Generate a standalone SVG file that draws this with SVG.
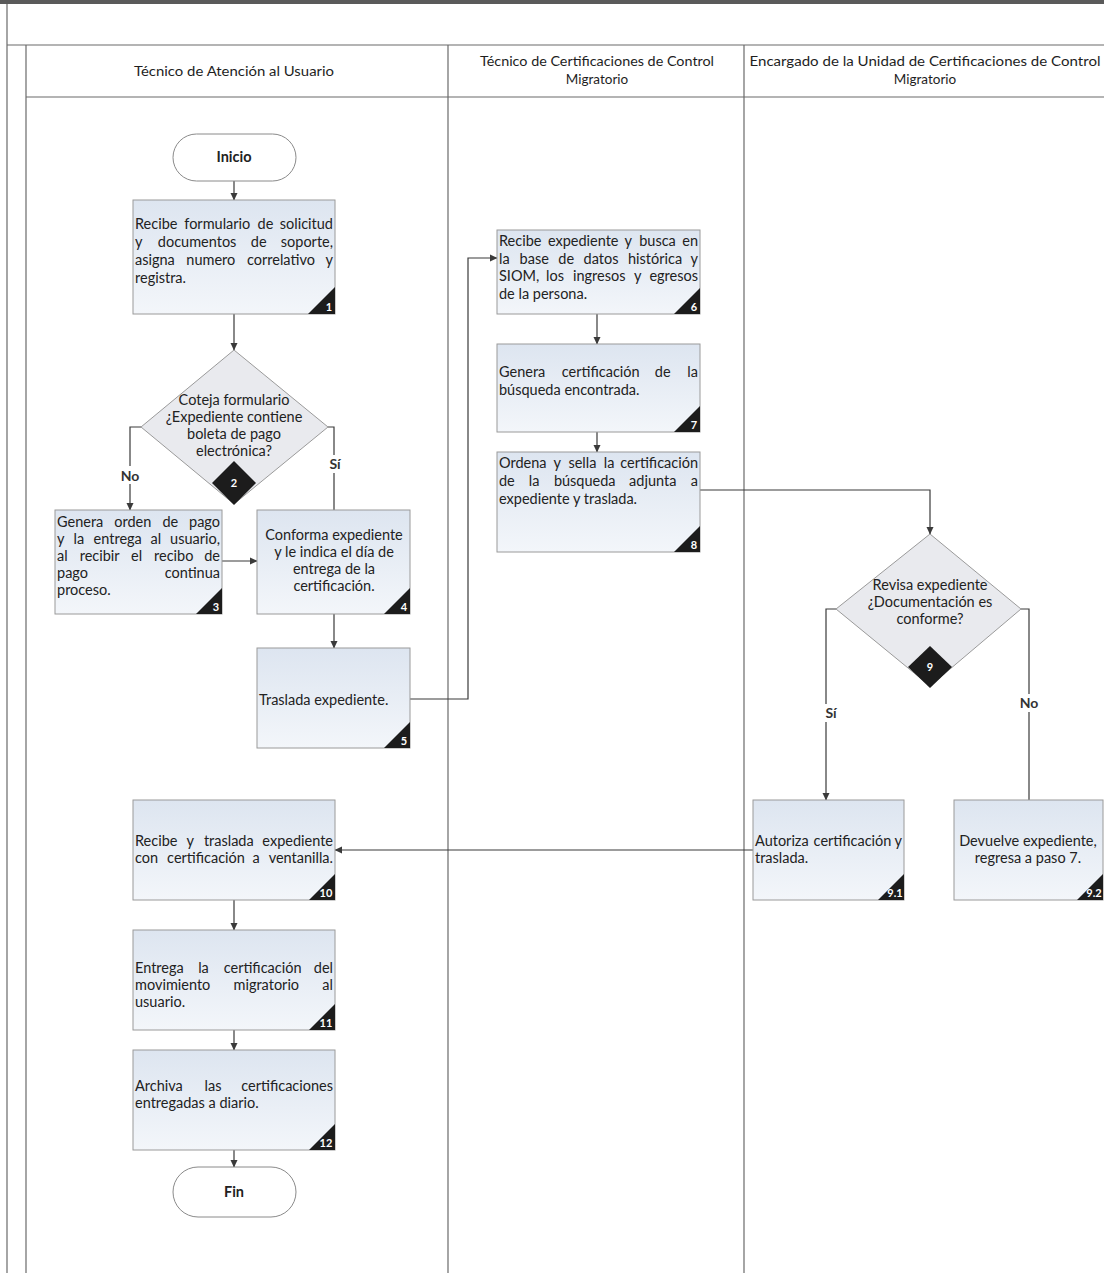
<svg xmlns="http://www.w3.org/2000/svg" width="1104" height="1273" viewBox="0 0 1104 1273">
<defs>
<linearGradient id="bg" x1="0" y1="0" x2="0" y2="1">
<stop offset="0" stop-color="#dde5f0"/>
<stop offset="1" stop-color="#f3f6fa"/>
</linearGradient>
<marker id="ah" markerWidth="8" markerHeight="8" refX="7" refY="4" orient="auto" markerUnits="userSpaceOnUse">
<path d="M0,0.5 L7.5,4 L0,7.5 Z" fill="#3a3a3a"/>
</marker>
<style>
.frame{stroke:#6a6a6a;stroke-width:1.2;fill:none}
.box{fill:url(#bg);stroke:#9a9a9a;stroke-width:1}
.dia{fill:#e9eaee;stroke:#9a9a9a;stroke-width:1}
.term{fill:#ffffff;stroke:#8a8a8a;stroke-width:1}
.tri{fill:#1c1c1c}
.num{font-family:Lato,"Open Sans",sans-serif;font-size:11px;font-weight:bold;fill:#ffffff}
.t{font-family:Lato,"Open Sans",sans-serif;font-size:14.5px;fill:#222222}
.c{text-anchor:middle}
.e{text-anchor:end}
.h{font-family:Lato,"Open Sans",sans-serif;font-size:13.5px;fill:#1e1e1e;text-anchor:middle}
.lbl{font-family:Lato,"Open Sans",sans-serif;font-size:14px;font-weight:bold;fill:#333;text-anchor:middle}
.con{stroke:#3a3a3a;stroke-width:1.2;fill:none}
.arr{marker-end:url(#ah)}
</style>
</defs>
<rect x="0" y="0" width="1104" height="1273" fill="#ffffff"/>
<g id="frame">
<rect x="0" y="0" width="1104" height="4" fill="#5a5a5a"/>
<line class="frame" x1="7" y1="4" x2="7" y2="1273"/>
<line class="frame" x1="7" y1="45" x2="1104" y2="45"/>
<line class="frame" x1="26" y1="45" x2="26" y2="1273"/>
<line class="frame" x1="26" y1="97" x2="1104" y2="97"/>
<line class="frame" x1="448" y1="45" x2="448" y2="1273"/>
<line class="frame" x1="744" y1="45" x2="744" y2="1273"/>
<text class="h" x="234" y="76" textLength="200" lengthAdjust="spacingAndGlyphs">Técnico de Atención al Usuario</text>
<text class="h" x="597" y="66" textLength="234" lengthAdjust="spacingAndGlyphs">Técnico de Certificaciones de Control</text>
<text class="h" x="597" y="84">Migratorio</text>
<text class="h" x="925" y="66" textLength="351" lengthAdjust="spacingAndGlyphs">Encargado de la Unidad de Certificaciones de Control</text>
<text class="h" x="925" y="84">Migratorio</text>
</g>
<g id="connectors">
<line class="con arr" x1="234" y1="181" x2="234" y2="200"/>
<line class="con arr" x1="234" y1="314" x2="234" y2="350"/>
<polyline class="con arr" points="141,427 130,427 130,510"/>
<polyline class="con" points="328,427 334,427 334,510"/>
<line class="con arr" x1="222" y1="561" x2="257" y2="561"/>
<line class="con arr" x1="334" y1="614" x2="334" y2="648"/>
<polyline class="con arr" points="410,699 468,699 468,258 497,258"/>
<line class="con arr" x1="597" y1="314" x2="597" y2="344"/>
<line class="con arr" x1="597" y1="432" x2="597" y2="452"/>
<polyline class="con arr" points="700,490 930,490 930,534"/>
<polyline class="con arr" points="836,609 826,609 826,800"/>
<polyline class="con" points="1021,609 1029,609 1029,800"/>
<line class="con arr" x1="753" y1="850" x2="335" y2="850"/>
<line class="con arr" x1="234" y1="900" x2="234" y2="930"/>
<line class="con arr" x1="234" y1="1030" x2="234" y2="1050"/>
<line class="con arr" x1="234" y1="1150" x2="234" y2="1167"/>
<rect x="117" y="466" width="26" height="18" fill="#ffffff"/>
<text class="lbl" x="130" y="481">No</text>
<rect x="326" y="455" width="18" height="18" fill="#ffffff"/>
<text class="lbl" x="335" y="469">Sí</text>
<rect x="817" y="704" width="18" height="18" fill="#ffffff"/>
<text class="lbl" x="831" y="718">Sí</text>
<rect x="1016" y="694" width="26" height="18" fill="#ffffff"/>
<text class="lbl" x="1029" y="708">No</text>
</g>
<g id="inicio">
<rect class="term" x="173" y="134" width="123" height="47" rx="23.5"/>
<text class="t c" x="234" y="162" font-weight="bold">Inicio</text>
</g>
<g id="n1">
<rect class="box" x="133" y="200" width="202" height="114"/>
<text class="t" y="229"><tspan x="135">Recibe</tspan><tspan x="184.3">formulario</tspan><tspan x="257.6">de</tspan><tspan class="e" x="333">solicitud</tspan></text>
<text class="t" y="247"><tspan x="135">y</tspan><tspan x="157.8">documentos</tspan><tspan x="250.8">de</tspan><tspan class="e" x="333">soporte,</tspan></text>
<text class="t" y="265"><tspan x="135">asigna</tspan><tspan x="186.3">numero</tspan><tspan x="247">correlativo</tspan><tspan class="e" x="333">y</tspan></text>
<text class="t" x="135" y="283">registra.</text>
<path class="tri" d="M335,287 L335,314 L308,314 Z"/>
<text class="num" x="329" y="311" text-anchor="middle">1</text>
</g>
<g id="n2">
<path class="dia" d="M234,350 L141,427 L234,504 L328,427 Z"/>
<text class="t c" x="234" y="405">Coteja formulario</text>
<text class="t c" x="234" y="422">¿Expediente contiene</text>
<text class="t c" x="234" y="439">boleta de pago</text>
<text class="t c" x="234" y="456">electrónica?</text>
<path class="tri" d="M234,461 L256,483 L234,505 L212,483 Z"/>
<text class="num" x="234" y="487" text-anchor="middle">2</text>
</g>
<g id="n3">
<rect class="box" x="55" y="510" width="167" height="104"/>
<text class="t" y="527"><tspan x="57">Genera</tspan><tspan x="114.2">orden</tspan><tspan x="162.5">de</tspan><tspan class="e" x="220">pago</tspan></text>
<text class="t" y="544"><tspan x="57">y</tspan><tspan x="73.5">la</tspan><tspan x="93.6">entrega</tspan><tspan x="150.6">al</tspan><tspan class="e" x="220">usuario,</tspan></text>
<text class="t" y="561"><tspan x="57">al</tspan><tspan x="79.7">recibir</tspan><tspan x="131.1">el</tspan><tspan x="154">recibo</tspan><tspan class="e" x="220">de</tspan></text>
<text class="t" y="578"><tspan x="57">pago</tspan><tspan class="e" x="220">continua</tspan></text>
<text class="t" x="57" y="595">proceso.</text>
<path class="tri" d="M222,588 L222,614 L196,614 Z"/>
<text class="num" x="216" y="611" text-anchor="middle">3</text>
</g>
<g id="n4">
<rect class="box" x="257" y="510" width="153" height="104"/>
<text class="t c" x="334" y="540">Conforma expediente</text>
<text class="t c" x="334" y="557">y le indica el día de</text>
<text class="t c" x="334" y="574">entrega de la</text>
<text class="t c" x="334" y="591">certificación.</text>
<path class="tri" d="M410,588 L410,614 L384,614 Z"/>
<text class="num" x="404" y="611" text-anchor="middle">4</text>
</g>
<g id="n5">
<rect class="box" x="257" y="648" width="153" height="100"/>
<text class="t" x="259" y="705">Traslada expediente.</text>
<path class="tri" d="M410,722 L410,748 L384,748 Z"/>
<text class="num" x="404" y="745" text-anchor="middle">5</text>
</g>
<g id="n6">
<rect class="box" x="497" y="230" width="203" height="84"/>
<text class="t" y="246"><tspan x="499">Recibe</tspan><tspan x="547.9">expediente</tspan><tspan x="624.6">y</tspan><tspan x="639.2">busca</tspan><tspan class="e" x="698">en</tspan></text>
<text class="t" y="264"><tspan x="499">la</tspan><tspan x="519.6">base</tspan><tspan x="558.3">de</tspan><tspan x="583.6">datos</tspan><tspan x="628">histórica</tspan><tspan class="e" x="698">y</tspan></text>
<text class="t" y="281"><tspan x="499">SIOM,</tspan><tspan x="546.1">los</tspan><tspan x="573">ingresos</tspan><tspan x="633.9">y</tspan><tspan class="e" x="698">egresos</tspan></text>
<text class="t" x="499" y="299">de la persona.</text>
<path class="tri" d="M700,288 L700,314 L674,314 Z"/>
<text class="num" x="694" y="311" text-anchor="middle">6</text>
</g>
<g id="n7">
<rect class="box" x="497" y="344" width="203" height="88"/>
<text class="t" y="377"><tspan x="499">Genera</tspan><tspan x="561.8">certificación</tspan><tspan x="654.8">de</tspan><tspan class="e" x="698">la</tspan></text>
<text class="t" x="499" y="395">búsqueda encontrada.</text>
<path class="tri" d="M700,406 L700,432 L674,432 Z"/>
<text class="num" x="694" y="429" text-anchor="middle">7</text>
</g>
<g id="n8">
<rect class="box" x="497" y="452" width="203" height="100"/>
<text class="t" y="468"><tspan x="499">Ordena</tspan><tspan x="553.6">y</tspan><tspan x="568.4">sella</tspan><tspan x="603.8">la</tspan><tspan class="e" x="698">certificación</tspan></text>
<text class="t" y="486"><tspan x="499">de</tspan><tspan x="528.8">la</tspan><tspan x="553.9">búsqueda</tspan><tspan x="629.1">adjunta</tspan><tspan class="e" x="698">a</tspan></text>
<text class="t" x="499" y="504">expediente y traslada.</text>
<path class="tri" d="M700,526 L700,552 L674,552 Z"/>
<text class="num" x="694" y="549" text-anchor="middle">8</text>
</g>
<g id="n9">
<path class="dia" d="M930,534 L836,609 L930,686 L1021,609 Z"/>
<text class="t c" x="930" y="590">Revisa expediente</text>
<text class="t c" x="930" y="607">¿Documentación es</text>
<text class="t c" x="930" y="624">conforme?</text>
<path class="tri" d="M930,646 L952,667 L930,688 L908,667 Z"/>
<text class="num" x="930" y="671" text-anchor="middle">9</text>
</g>
<g id="n91">
<rect class="box" x="753" y="800" width="151" height="100"/>
<text class="t" y="846"><tspan x="755">Autoriza</tspan><tspan x="813.6">certificación</tspan><tspan class="e" x="902">y</tspan></text>
<text class="t" x="755" y="863">traslada.</text>
<path class="tri" d="M904,874 L904,900 L878,900 Z"/>
<text class="num" x="895" y="897" text-anchor="middle" font-size="8.5">9.1</text>
</g>
<g id="n92">
<rect class="box" x="954" y="800" width="149" height="100"/>
<text class="t c" x="1028" y="846">Devuelve expediente,</text>
<text class="t c" x="1028" y="863">regresa a paso 7.</text>
<path class="tri" d="M1103,874 L1103,900 L1077,900 Z"/>
<text class="num" x="1094" y="897" text-anchor="middle" font-size="8.5">9.2</text>
</g>
<g id="n10">
<rect class="box" x="133" y="800" width="202" height="100"/>
<text class="t" y="846"><tspan x="135">Recibe</tspan><tspan x="186.6">y</tspan><tspan x="203.9">traslada</tspan><tspan class="e" x="333">expediente</tspan></text>
<text class="t" y="863"><tspan x="135">con</tspan><tspan x="167.1">certificación</tspan><tspan x="252.4">a</tspan><tspan class="e" x="333">ventanilla.</tspan></text>
<path class="tri" d="M335,874 L335,900 L309,900 Z"/>
<text class="num" x="326" y="897" text-anchor="middle">10</text>
</g>
<g id="n11">
<rect class="box" x="133" y="930" width="202" height="100"/>
<text class="t" y="973"><tspan x="135">Entrega</tspan><tspan x="198.2">la</tspan><tspan x="223.7">certificación</tspan><tspan class="e" x="333">del</tspan></text>
<text class="t" y="990"><tspan x="135">movimiento</tspan><tspan x="233.5">migratorio</tspan><tspan class="e" x="333">al</tspan></text>
<text class="t" x="135" y="1007">usuario.</text>
<path class="tri" d="M335,1004 L335,1030 L309,1030 Z"/>
<text class="num" x="326" y="1027" text-anchor="middle">11</text>
</g>
<g id="n12">
<rect class="box" x="133" y="1050" width="202" height="100"/>
<text class="t" y="1091"><tspan x="135">Archiva</tspan><tspan x="204.6">las</tspan><tspan class="e" x="333">certificaciones</tspan></text>
<text class="t" x="135" y="1108">entregadas a diario.</text>
<path class="tri" d="M335,1124 L335,1150 L309,1150 Z"/>
<text class="num" x="326" y="1147" text-anchor="middle">12</text>
</g>
<g id="fin">
<rect class="term" x="173" y="1167" width="123" height="50" rx="25"/>
<text class="t c" x="234" y="1197" font-weight="bold">Fin</text>
</g>
</svg>
